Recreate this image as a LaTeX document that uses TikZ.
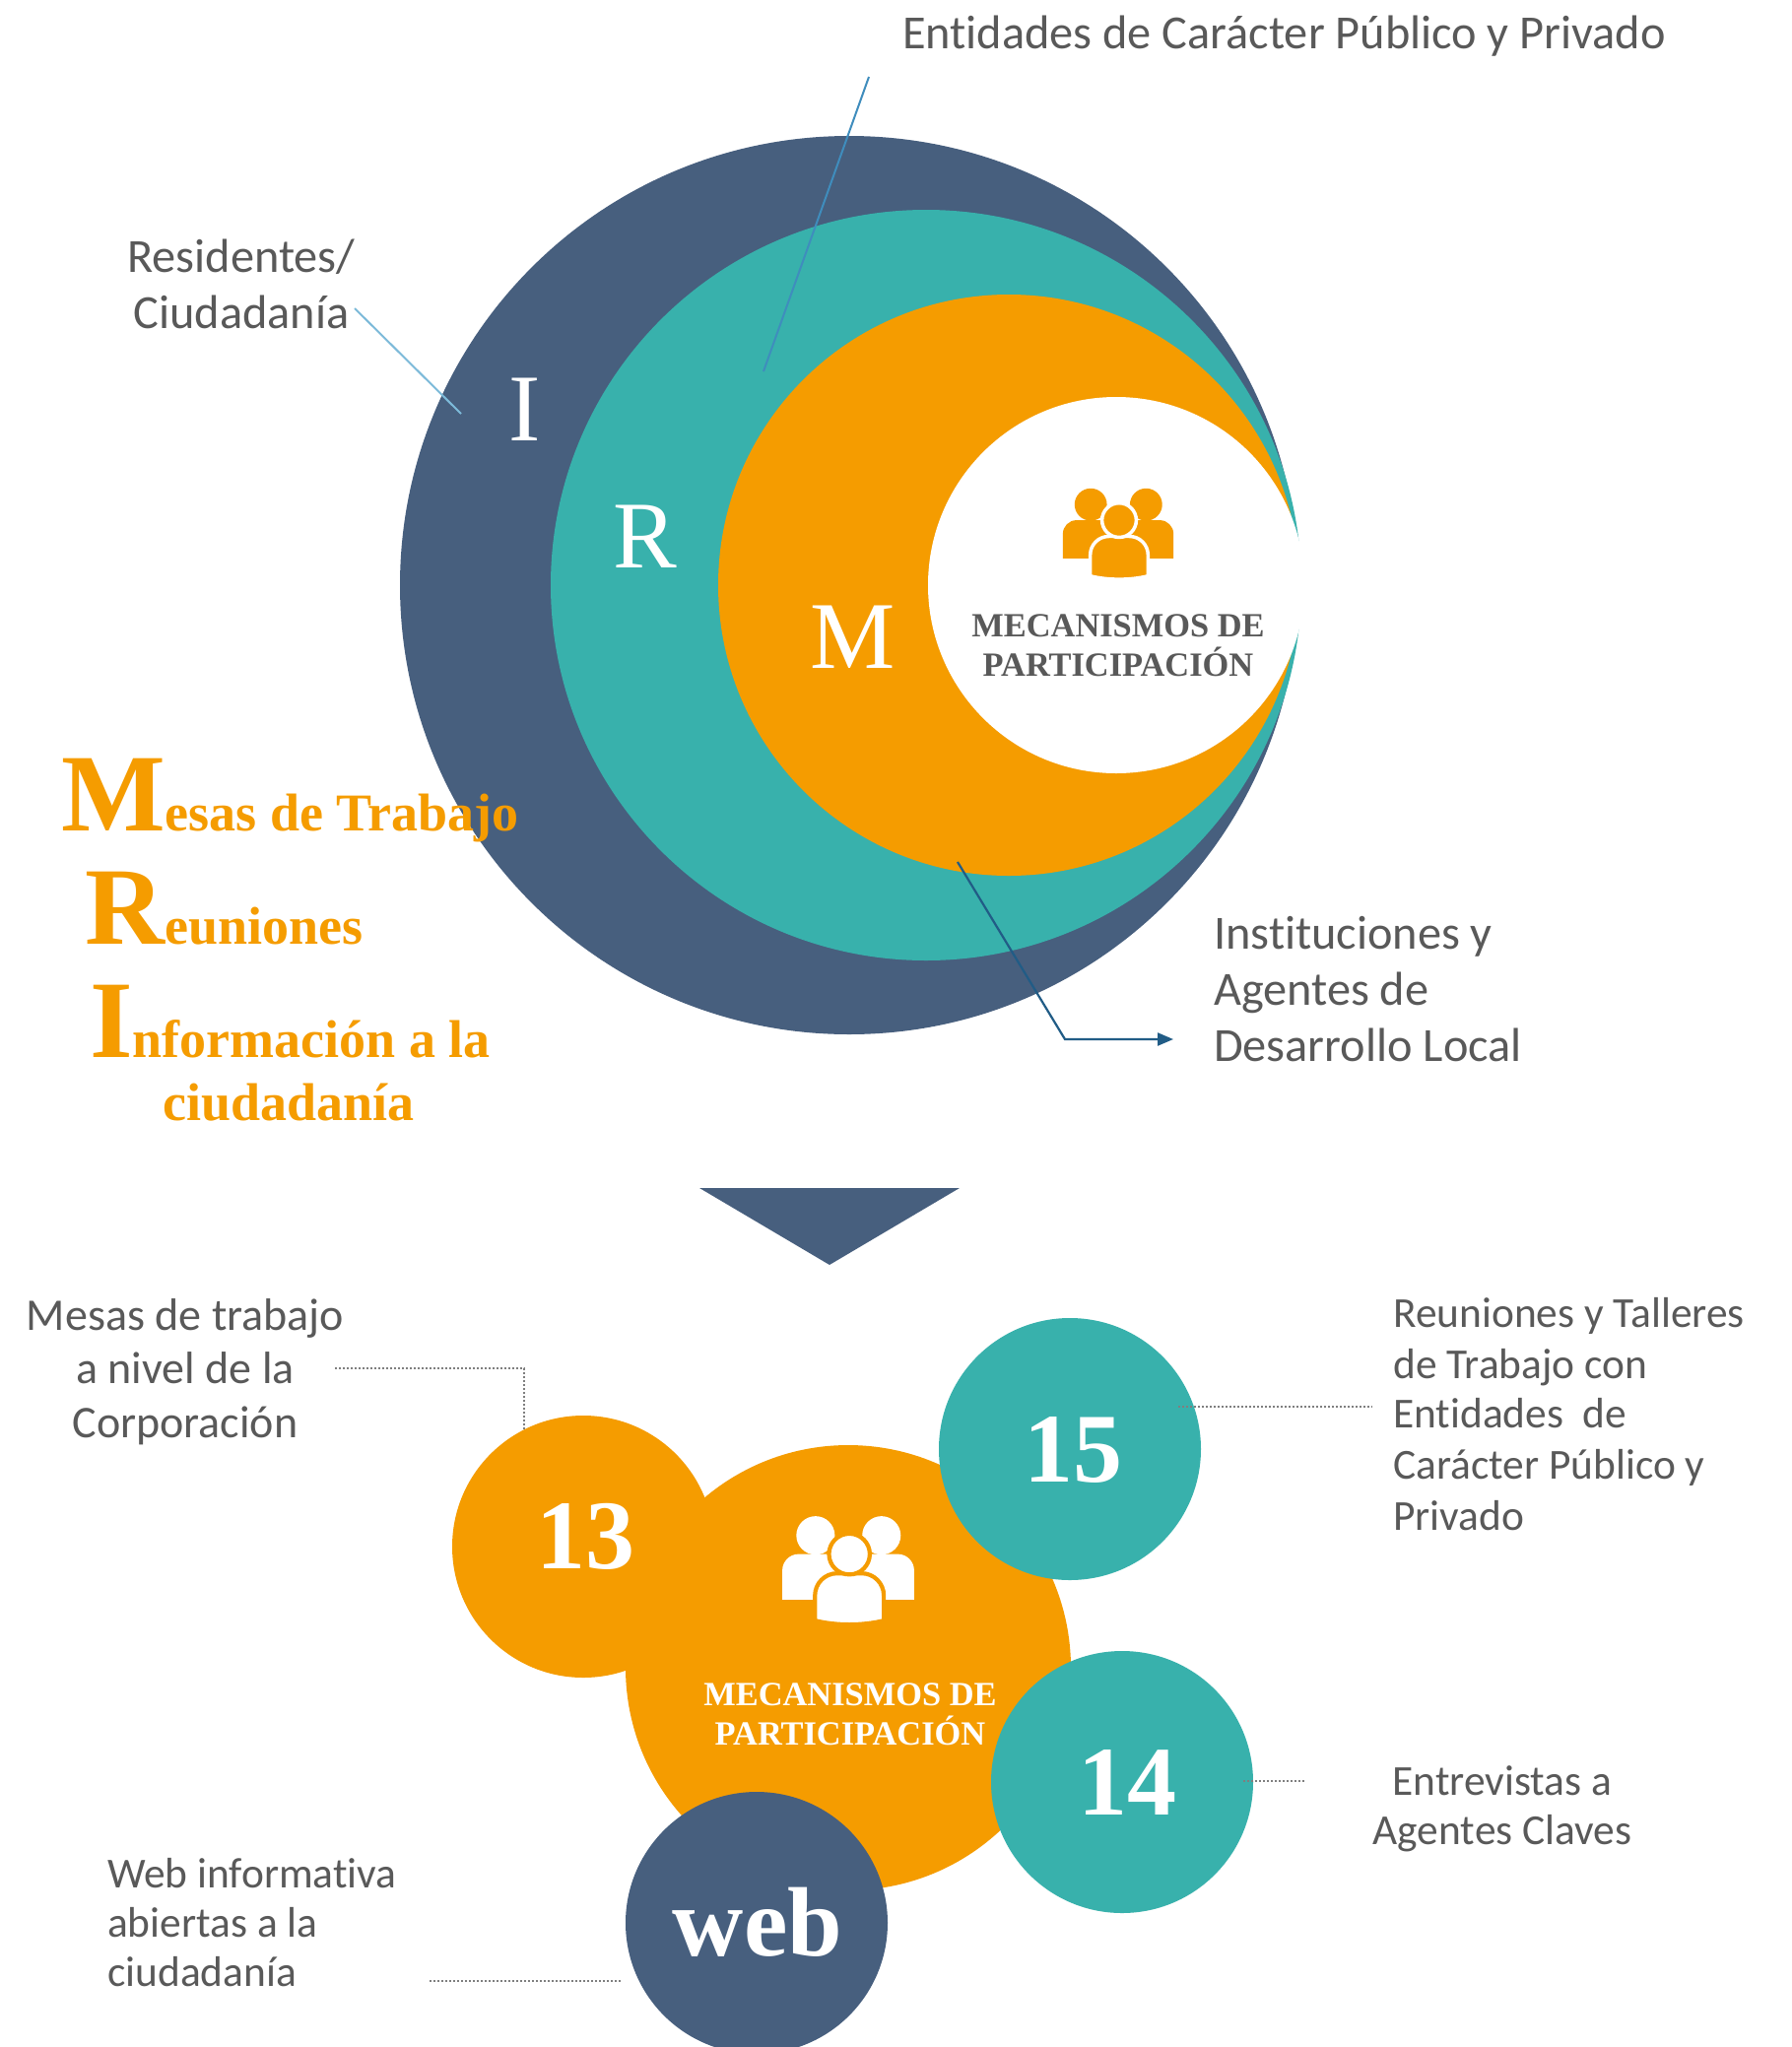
\documentclass[tikz,border=0pt]{standalone}
\usepackage{fontspec}
\setmainfont{Liberation Serif}
\newfontfamily\calib[Ligatures=NoCommon]{Carlito}
\usetikzlibrary{arrows.meta}
\definecolor{dkblue}{HTML}{475F7E}
\definecolor{tealc}{HTML}{38B1AC}
\definecolor{orangec}{HTML}{F59C00}
\definecolor{txtgray}{HTML}{595959}
\definecolor{dotgray}{HTML}{7F7F7F}
\definecolor{lineA}{HTML}{7DBAD9}
\definecolor{lineB}{HTML}{3F8DBD}
\definecolor{lineC}{HTML}{215C86}
\newcommand{\peopleicon}[6]{%
 \begin{scope}[shift={(#1,#2)}, scale=#3]
  \fill[#4] (-113,52) -- (-113,2) arc[start angle=180,end angle=270,radius=28] -- (-20,-26) -- (-20,52) -- cycle;
  \fill[#4] (113,52) -- (113,2) arc[start angle=0,end angle=-90,radius=28] -- (20,-26) -- (20,52) -- cycle;
  \fill[#4] (-56,-58) circle[radius=33];
  \fill[#4] (57,-58) circle[radius=33];
  \filldraw[fill=#4, draw=#5, line width=#6] (-57,88) -- (-57,45) arc[start angle=180,end angle=270,radius=38] -- (23,7) arc[start angle=270,end angle=360,radius=38] -- (61,88) .. controls (25,97) and (-21,97) .. (-57,88) -- cycle;
  \filldraw[fill=#4, draw=#5, line width=#6] (2,-26) circle[radius=35];
 \end{scope}}
\tikzset{
  disc/.style={circle, inner sep=0pt, minimum size=#1},
  lbl/.style={inner sep=0pt, text=txtgray, font=\calib\fontsize{48.3}{57}\selectfont},
  lbls/.style={inner sep=0pt, text=txtgray, font=\calib\fontsize{43.4}{51}\selectfont},
  lblm/.style={inner sep=0pt, text=txtgray, font=\calib\fontsize{46}{54}\selectfont},
  bigletter/.style={inner sep=0pt, text=white, font=\fontsize{97}{97}\selectfont},
  mecgray/.style={inner sep=0pt, text=txtgray, font=\bfseries\fontsize{34.4}{40}\selectfont},
  mecwhite/.style={inner sep=0pt, text=white, font=\bfseries\fontsize{34.4}{40}\selectfont},
  mri/.style={inner sep=0pt, text=orangec, font=\bfseries},
  num/.style={inner sep=0pt, text=white, font=\bfseries\fontsize{100}{100}\selectfont},
  dotline/.style={dotgray, line width=2.5pt, dash pattern=on 2pt off 2pt},
}
\begin{document}
\begin{tikzpicture}[x=1pt,y=-1pt]
\useasboundingbox (0,0) rectangle (1819,2078);
\fill[white] (0,0) rectangle (1819,2078);
% ---- top nested circles
\node[disc=912pt, fill=dkblue] (cI) at (862,594) {};
\node[disc=762pt, fill=tealc] (cR) at (940,594) {};
\node[disc=590pt, fill=orangec] (cM) at (1024,594) {};
\node[disc=382pt, fill=white] (cW) at (1133,594) {};
\peopleicon{1135}{541}{0.497}{orangec}{white}{3.5pt}
\node[mecgray, anchor=base] (mecA) at (1135,646) {MECANISMOS DE};
\node[mecgray, anchor=base] (mecB) at (1135,686) {PARTICIPACIÓN};
\node[bigletter] (lI) at (533,416) {I};
\node[bigletter] (lR) at (655,545) {R};
\node[bigletter] (lM) at (866,647) {M};
% ---- labels top
\node[lbl, anchor=base west] (ent) at (916,49) {Entidades de Carácter Público y Privado};
\node[lbl, anchor=base] (res1) at (245,276) {Residentes/};
\node[lbl, anchor=base] (res2) at (245,333) {Ciudadanía};
\node[lbl, anchor=base west] (ins1) at (1232,963) {Instituciones y};
\node[lbl, anchor=base west] (ins2) at (1232,1020) {Agentes de};
\node[lbl, anchor=base west] (ins3) at (1232,1077) {Desarrollo Local};
\coordinate (resA) at (360,313);
\coordinate (resB) at (468,420);
\coordinate (entA) at (882,78);
\coordinate (entB) at (775,377);
\coordinate (insA) at (972,875);
\coordinate (insB) at (1081,1055);
\coordinate (insC) at (1191,1055);
\draw[lineA, line width=2pt] (resA) -- (resB);
\draw[lineB, line width=2pt] (entA) -- (entB);
\draw[lineC, line width=2.2pt, -{Triangle[length=16pt,width=13pt]}] (insA) -- (insB) -- (insC);
% ---- MRI text
\node[mri, anchor=base west] (mriM) at (62,843) {{\fontsize{112}{112}\selectfont M}{\fontsize{54}{54}\selectfont esas de Trabajo}};
\node[mri, anchor=base west] (mriR) at (86,958) {{\fontsize{112}{112}\selectfont R}{\fontsize{54}{54}\selectfont euniones}};
\node[mri, anchor=base west] (mriI) at (91,1073) {{\fontsize{112}{112}\selectfont I}{\fontsize{54}{54}\selectfont nformación a la}};
\node[mri, anchor=base] (mriC) at (293,1137) {\fontsize{54}{54}\selectfont ciudadanía};
% ---- triangle
\fill[dkblue] (710,1206) -- (974,1206) -- (842,1284) -- cycle;
% ---- bottom cluster
\node[disc=452pt, fill=orangec] (big) at (861,1693) {};
\node[disc=266pt, fill=orangec] (c13) at (592,1570) {};
\node[disc=266pt, fill=tealc] (c15) at (1086,1471) {};
\node[disc=266pt, fill=tealc] (c14) at (1139,1809) {};
\node[disc=266pt, fill=dkblue] (cweb) at (768,1952) {};
\peopleicon{861}{1593}{0.592}{white}{orangec}{4.2pt}
\node[mecwhite, anchor=base] (mecC) at (863,1731) {MECANISMOS DE};
\node[mecwhite, anchor=base] (mecD) at (863,1771) {PARTICIPACIÓN};
\node[num, anchor=base] (n13) at (594,1592) {13};
\node[num, anchor=base] (n15) at (1089,1504) {15};
\node[num, anchor=base] (n14) at (1144,1842) {14};
\node[num, anchor=base] (nweb) at (769,1985) {web};
% ---- bottom labels
\node[lblm, anchor=base] (mes1) at (188,1350) {Mesas de trabajo};
\node[lblm, anchor=base] (mes2) at (188,1404) {a nivel de la};
\node[lblm, anchor=base] (mes3) at (188,1459) {Corporación};
\node[lbls, anchor=base west] (reu1) at (1414,1347) {Reuniones y Talleres};
\node[lbls, anchor=base west] (reu2) at (1414,1399) {de Trabajo con};
\node[lbls, anchor=base west] (reu3) at (1414,1449) {Entidades\ \ de};
\node[lbls, anchor=base west] (reu4) at (1414,1501) {Carácter Público y};
\node[lbls, anchor=base west] (reu5) at (1414,1553) {Privado};
\node[lbls, anchor=base] (ent1) at (1525,1822) {Entrevistas a};
\node[lbls, anchor=base] (ent2) at (1525,1872) {Agentes Claves};
\node[lbls, anchor=base west] (web1) at (109,1916) {Web informativa};
\node[lbls, anchor=base west] (web2) at (109,1966) {abiertas a la};
\node[lbls, anchor=base west] (web3) at (109,2016) {ciudadanía};
\coordinate (d13a) at (340,1389);
\coordinate (d13b) at (532,1389);
\coordinate (d13c) at (532,1452);
\coordinate (d15a) at (1196,1428);
\coordinate (d15b) at (1393,1428);
\coordinate (d14a) at (1262,1808);
\coordinate (d14b) at (1325,1808);
\coordinate (dwa) at (436,2011);
\coordinate (dwb) at (630,2011);
\draw[dotline] (d13a) -- (d13b) -- (d13c);
\draw[dotline] (d15a) -- (d15b);
\draw[dotline] (d14a) -- (d14b);
\draw[dotline] (dwa) -- (dwb);
\end{tikzpicture}
\end{document}
